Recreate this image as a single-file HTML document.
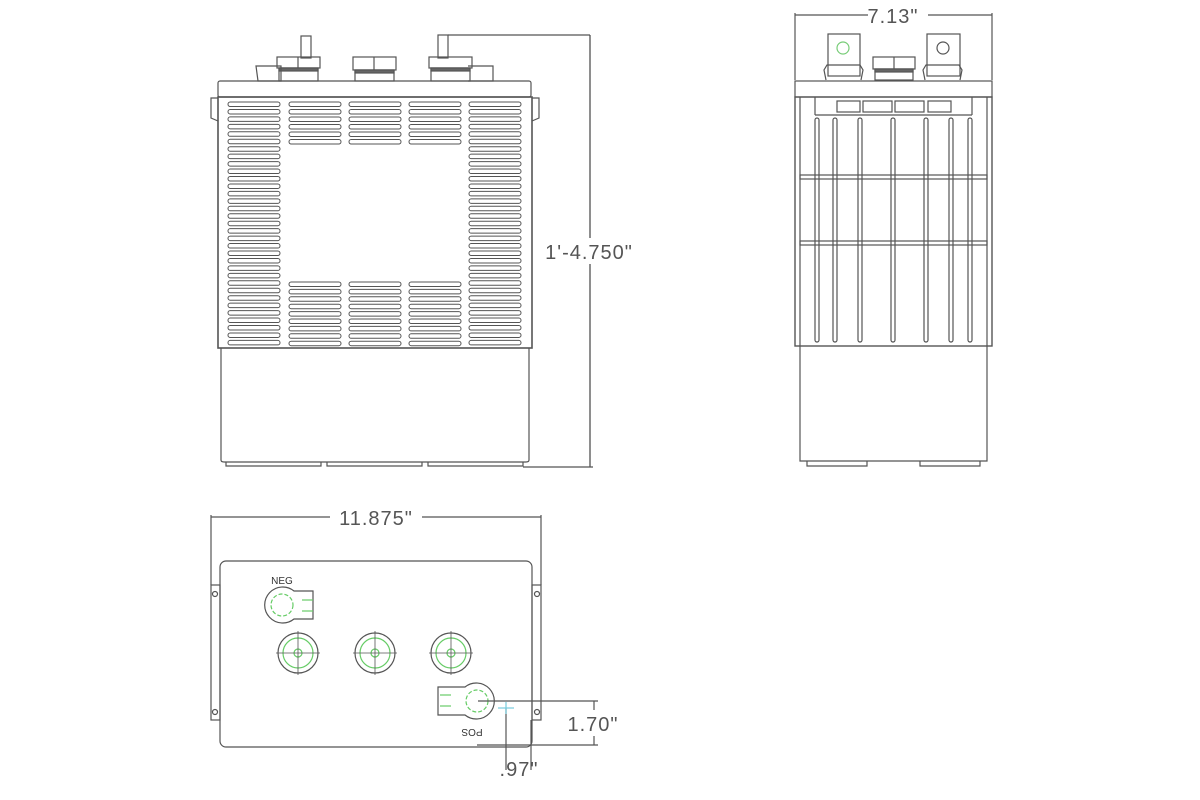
<!DOCTYPE html>
<html><head><meta charset="utf-8"><style>
html,body{margin:0;padding:0;background:#fff;width:1200px;height:800px;overflow:hidden}
svg{display:block}
text{font-family:"Liberation Sans",sans-serif;fill:#555}
</style></head><body>
<svg width="1200" height="800" viewBox="0 0 1200 800" xmlns="http://www.w3.org/2000/svg">
<g fill="none" stroke="#555" stroke-width="1.2">
<!-- FRONT VIEW -->
<rect x="301" y="36" width="10" height="22"/>
<rect x="277" y="57" width="43" height="11"/>
<line x1="298" y1="57" x2="298" y2="68"/>
<rect x="279" y="68" width="39" height="13"/>
<rect x="279" y="68" width="39" height="3" fill="#666"/>
<path d="M256 66 H281 V81 H258 Z"/>
<rect x="353" y="57" width="43" height="13"/>
<line x1="374" y1="57" x2="374" y2="70"/>
<rect x="355" y="70" width="39" height="11"/>
<rect x="355" y="70" width="39" height="3" fill="#666"/>
<rect x="438" y="35" width="10" height="23"/>
<line x1="448" y1="35" x2="590" y2="35"/>
<rect x="429" y="57" width="43" height="11"/>
<rect x="431" y="68" width="39" height="13"/>
<rect x="431" y="68" width="39" height="3" fill="#666"/>
<path d="M468 66 H493 V81 H468"/>
<rect x="218" y="81" width="313" height="16" rx="2"/>
<rect x="218" y="97" width="314" height="251" stroke-width="1.6"/>
<path d="M218 98 H211 V118 L218 121"/>
<path d="M532 98 H539 V118 L532 121"/>
<path d="M221 348 V460 Q221 462 224 462 H526 Q529 462 529 460 V348"/>
<path d="M226 462 V466 H321 V462 M327 462 V466 H422 V462 M428 462 V466 H523 V462"/>
<line x1="590" y1="35" x2="590" y2="467" stroke="#444"/>
<line x1="523" y1="467" x2="593" y2="467"/>
</g>
<g id="slots"></g>
<rect x="540" y="238" width="98" height="26" fill="#fff"/>
<text x="589" y="259" font-size="20" text-anchor="middle" letter-spacing="1">1'-4.750"</text>

<!-- SIDE VIEW -->
<g fill="none" stroke="#555" stroke-width="1.2">
<line x1="795" y1="13" x2="795" y2="80"/>
<line x1="992" y1="13" x2="992" y2="80"/>
<line x1="795" y1="15" x2="868" y2="15"/>
<line x1="928" y1="15" x2="992" y2="15"/>
<rect x="828" y="34" width="32" height="42"/>
<circle cx="843" cy="48" r="6" stroke="#7c7"/>
<rect x="927" y="34" width="33" height="42"/>
<circle cx="943" cy="48" r="6"/>
<path d="M826 80 L824 70 L827 65 H860 L863 70 L861 80"/>
<path d="M925 80 L923 70 L926 65 H959 L962 70 L960 80"/>
<rect x="873" y="57" width="42" height="12"/>
<line x1="894" y1="57" x2="894" y2="69"/>
<rect x="875" y="69" width="38" height="11"/>
<rect x="875" y="69" width="38" height="3" fill="#666"/>
<rect x="795" y="81" width="197" height="16"/>
<rect x="795" y="97" width="197" height="249" stroke-width="1.4"/>
<line x1="800" y1="97" x2="800" y2="346"/>
<line x1="987" y1="97" x2="987" y2="346"/>
<line x1="815" y1="115" x2="972" y2="115"/>
<line x1="815" y1="97" x2="815" y2="115"/>
<line x1="972" y1="97" x2="972" y2="115"/>
<rect x="837" y="101" width="23" height="11"/>
<rect x="863" y="101" width="29" height="11"/>
<rect x="895" y="101" width="29" height="11"/>
<rect x="928" y="101" width="23" height="11"/>
<rect x="800" y="175" width="187" height="4"/>
<rect x="800" y="241" width="187" height="4"/>
<rect x="815" y="118" width="4" height="224" rx="2"/>
<rect x="833" y="118" width="4" height="224" rx="2"/>
<rect x="858" y="118" width="4" height="224" rx="2"/>
<rect x="891" y="118" width="4" height="224" rx="2"/>
<rect x="924" y="118" width="4" height="224" rx="2"/>
<rect x="949" y="118" width="4" height="224" rx="2"/>
<rect x="968" y="118" width="4" height="224" rx="2"/>
<path d="M800 346 V461 H987 V346"/>
<path d="M807 461 V466 H867 V461 M920 461 V466 H980 V461"/>

<!-- TOP VIEW -->
<line x1="211" y1="515" x2="211" y2="585"/>
<line x1="541" y1="515" x2="541" y2="585"/>
<line x1="211" y1="517" x2="330" y2="517"/>
<line x1="422" y1="517" x2="541" y2="517"/>
<rect x="220" y="561" width="312" height="186" rx="6"/>
<rect x="211" y="585" width="9" height="135"/>
<rect x="532" y="585" width="9" height="135"/>
<circle cx="215" cy="594" r="2.5"/><circle cx="215" cy="712" r="2.5"/>
<circle cx="537" cy="594" r="2.5"/><circle cx="537" cy="712" r="2.5"/>
<!-- NEG -->
<path d="M294 591 A18 18 0 1 0 294 619 H313 V591 Z"/>
<circle cx="282" cy="605" r="11" stroke="#6c6" stroke-dasharray="4 2"/>
<line x1="302" y1="600" x2="313" y2="600" stroke="#6c6"/><line x1="302" y1="611" x2="313" y2="611" stroke="#6c6"/>
<!-- posts -->
<circle cx="298" cy="653" r="20"/><circle cx="298" cy="653" r="15" stroke="#6c6"/><circle cx="298" cy="653" r="4" stroke="#6c6"/>
<circle cx="375" cy="653" r="20"/><circle cx="375" cy="653" r="15" stroke="#6c6"/><circle cx="375" cy="653" r="4" stroke="#6c6"/>
<circle cx="451" cy="653" r="20"/><circle cx="451" cy="653" r="15" stroke="#6c6"/><circle cx="451" cy="653" r="4" stroke="#6c6"/>
<path d="M276 653h44M298 631v44M353 653h44M375 631v44M429 653h44M451 631v44" stroke-width="0.8"/>
<!-- POS -->
<path d="M465 687 A18 18 0 1 1 465 715 H438 V687 Z"/>
<circle cx="477" cy="701" r="11" stroke="#6c6" stroke-dasharray="4 2"/>
<line x1="440" y1="695" x2="451" y2="695" stroke="#6c6"/><line x1="440" y1="706" x2="451" y2="706" stroke="#6c6"/>
<line x1="478" y1="701" x2="598" y2="701"/>
<line x1="477" y1="745" x2="598" y2="745"/>
<line x1="594" y1="701" x2="594" y2="745"/>
<line x1="506" y1="708" x2="506" y2="770"/>
<line x1="531" y1="720" x2="531" y2="770"/>
<line x1="498" y1="708" x2="514" y2="708" stroke="#7cd"/>
<line x1="506" y1="702" x2="506" y2="714" stroke="#7cd"/>
</g>
<rect x="562" y="710" width="62" height="26" fill="#fff"/>
<text x="593" y="731" font-size="20" text-anchor="middle" letter-spacing="1">1.70"</text>
<text x="519" y="776" font-size="20" text-anchor="middle" letter-spacing="1">.97"</text>
<text x="376" y="525" font-size="20" text-anchor="middle" letter-spacing="1">11.875"</text>
<text x="893" y="23" font-size="20" text-anchor="middle" letter-spacing="1">7.13"</text>
<text x="282" y="584" font-size="10" text-anchor="middle" style="fill:#333">NEG</text>
<text x="0" y="0" font-size="10" text-anchor="middle" style="fill:#333" transform="translate(472,729) rotate(180)">POS</text>
<script>
(function(){
var g=document.getElementById('slots'),ns='http://www.w3.org/2000/svg';
function add(x,y){var r=document.createElementNS(ns,'rect');r.setAttribute('x',x);r.setAttribute('y',y-2);r.setAttribute('width',52);r.setAttribute('height',4.5);r.setAttribute('rx',2.2);r.setAttribute('fill','none');r.setAttribute('stroke','#555');r.setAttribute('stroke-width','1');g.appendChild(r);}
for(var i=0;i<33;i++){var y=104+i*7.45;add(228,y);add(469,y);}
[289,349,409].forEach(function(x){for(var i=0;i<6;i++)add(x,104+i*7.5);for(var j=0;j<9;j++)add(x,284+j*7.4);});
})();
</script>
</svg>
</body></html>
